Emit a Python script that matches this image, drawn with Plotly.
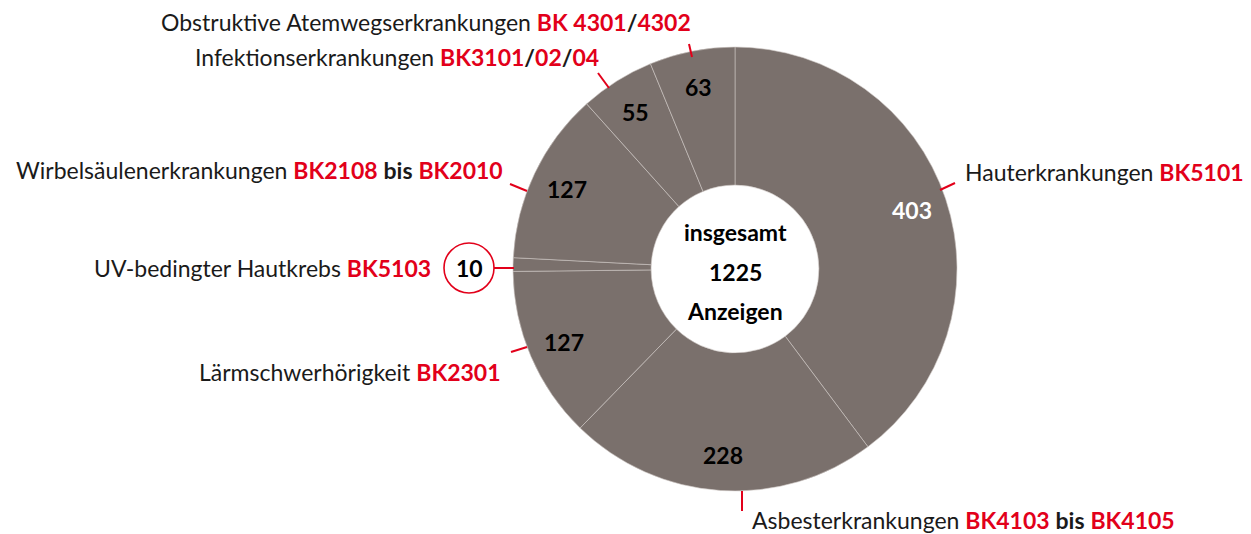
import math
import plotly.graph_objects as go

categories = ["Hauterkrankungen", "Asbesterkrankungen", "Lärmschwerhörigkeit",
              "UV-bedingter Hautkrebs", "Wirbelsäulenerkrankungen",
              "Infektionserkrankungen", "Obstruktive Atemwegserkrankungen"]
values = [403, 228, 127, 10, 127, 55, 63]
total_reports = 1225

RED = "#e2001a"
FILL = "#7a706c"
FONT = "Lato"
W, H = 1251, 534
CX, CY, R_OUT, R_LABEL = 735, 269, 222, 186

def px(x):
    return x / W

def py(y):
    return 1 - y / H

def red(s):
    return f"<b><span style='color:{RED}'>{s}</span></b>"

label_texts = [
    "Hauterkrankungen " + red("BK5101"),
    "Asbesterkrankungen " + red("BK4103") + " <b>bis</b> " + red("BK4105"),
    "Lärmschwerhörigkeit " + red("BK2301"),
    "UV-bedingter Hautkrebs " + red("BK5103"),
    "Wirbelsäulenerkrankungen " + red("BK2108") + " <b>bis</b> " + red("BK2010"),
    "Infektionserkrankungen " + red("BK3101") + "<b>/</b>" + red("02") + "<b>/</b>" + red("04"),
    "Obstruktive Atemwegserkrankungen " + red("BK 4301") + "<b>/</b>" + red("4302"),
]

fig = go.Figure(go.Pie(
    labels=categories,
    values=values,
    sort=False,
    direction="clockwise",
    rotation=0,
    hole=0.378,
    marker=dict(colors=[FILL] * len(values), line=dict(color="#cfc8c4", width=0.6)),
    textinfo="none",
    domain=dict(x=[px(CX - R_OUT), px(CX + R_OUT)], y=[py(CY + R_OUT), py(CY - R_OUT)]),
    showlegend=False,
    hoverinfo="label+value",
))

annotations = []
# value labels inside slices at the slice mid-angle
tot = sum(values)
cum = 0
for i, v in enumerate(values):
    mid = (cum + v / 2) / tot * 2 * math.pi
    cum += v
    if v < 20:
        continue
    x = CX + R_LABEL * math.sin(mid)
    y = CY - R_LABEL * math.cos(mid)
    annotations.append(dict(x=px(x), y=py(y), xref="paper", yref="paper",
                            xanchor="center", yanchor="middle",
                            text=f"<b>{v}</b>", showarrow=False,
                            font=dict(family=FONT, size=23,
                                      color="white" if i == 0 else "black")))

# outer label positions (x, y, anchor)
label_pos = [
    (963, 172, "left"),
    (750, 520, "left"),
    (503, 372, "right"),
    (433, 268, "right"),
    (505, 170, "right"),
    (601, 57, "right"),
    (693, 22, "right"),
]
for txt, (x, y, anc) in zip(label_texts, label_pos):
    annotations.append(dict(x=px(x), y=py(y), xref="paper", yref="paper",
                            text=txt, showarrow=False, xanchor=anc, yanchor="middle",
                            font=dict(family=FONT, size=23, color="#1a1a1a")))

# UV value in circle
annotations.append(dict(x=px(469), y=py(268), xref="paper", yref="paper",
                        xanchor="center", yanchor="middle",
                        text=f"<b>{values[3]}</b>", showarrow=False,
                        font=dict(family=FONT, size=23, color="black")))

# center text
for t, y in zip(["insgesamt", str(total_reports), "Anzeigen"], [232, 272, 311]):
    annotations.append(dict(x=px(CX), y=py(y), xref="paper", yref="paper",
                            xanchor="center", yanchor="middle",
                            text=f"<b>{t}</b>", showarrow=False,
                            font=dict(family=FONT, size=23, color="black")))

connectors = [
    ((940, 190), (955, 183)),
    ((742, 491), (742, 511)),
    ((511, 352), (527, 347)),
    ((494, 268), (514, 268)),
    ((510, 184), (527, 191)),
    ((598, 73), (609, 88)),
    ((689, 44), (692, 57)),
]
shapes = []
for (x0, y0), (x1, y1) in connectors:
    shapes.append(dict(type="line", xref="paper", yref="paper",
                       x0=px(x0), y0=py(y0), x1=px(x1), y1=py(y1),
                       line=dict(color=RED, width=2)))
shapes.append(dict(type="circle", xref="paper", yref="paper",
                   x0=px(444), x1=px(494), y0=py(293), y1=py(243),
                   line=dict(color=RED, width=1.6), fillcolor="white"))

fig.update_layout(
    width=W, height=H,
    margin=dict(l=0, r=0, t=0, b=0),
    paper_bgcolor="white", plot_bgcolor="white",
    annotations=annotations, shapes=shapes,
    font=dict(family=FONT),
)

fig.write_html("out.html")
